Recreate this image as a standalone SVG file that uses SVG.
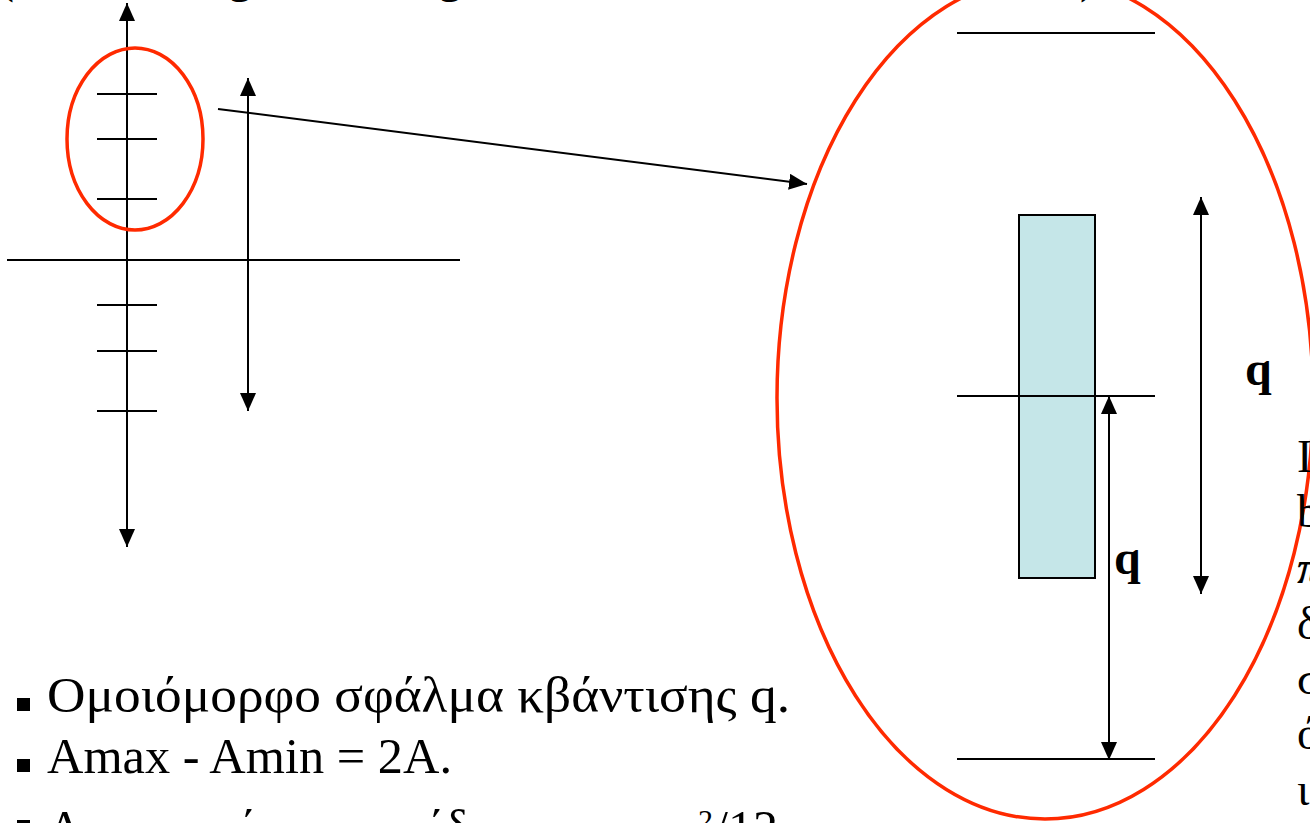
<svg xmlns="http://www.w3.org/2000/svg" width="1310" height="823" viewBox="0 0 1310 823">
<style>
.ln{stroke:#000;stroke-width:2;fill:none}
.red{stroke:#ff2a00;stroke-width:3.5;fill:none}
.txt{font-family:"Liberation Serif","Times New Roman",serif;fill:#000}
.q{font-family:"Liberation Serif","Times New Roman",serif;font-weight:bold;font-size:48px;fill:#000}
</style>
<defs>
<marker id="ah" markerUnits="userSpaceOnUse" markerWidth="18" markerHeight="16" viewBox="0 0 18 16" refX="18" refY="8" orient="auto-start-reverse">
<path d="M0,0 L18,8 L0,16 Z" fill="#000"/>
</marker>
</defs>
<rect width="1310" height="823" fill="#fff"/>

<g id="title-fragments" class="txt" font-size="48">
<text x="-2" y="-8">(</text>
<text x="228" y="-8">g</text>
<text x="438" y="-8">g</text>
<text x="1080" y="-8">)</text>
</g>

<g id="left-axes">
<line class="ln" x1="127" y1="547" x2="127" y2="3" marker-end="url(#ah)" marker-start="url(#ah)"/>
<line class="ln" x1="7" y1="260" x2="460" y2="260"/>
<line class="ln" x1="97" y1="94" x2="157" y2="94"/>
<line class="ln" x1="97" y1="139" x2="157" y2="139"/>
<line class="ln" x1="97" y1="199" x2="157" y2="199"/>
<line class="ln" x1="97" y1="305" x2="157" y2="305"/>
<line class="ln" x1="97" y1="351" x2="157" y2="351"/>
<line class="ln" x1="97" y1="411" x2="157" y2="411"/>
</g>
<g id="left-range-arrow">
<line class="ln" x1="248" y1="78" x2="248" y2="411" marker-start="url(#ah)" marker-end="url(#ah)"/>
</g>
<g id="small-ellipse">
<ellipse class="red" cx="135" cy="139" rx="68" ry="91"/>
</g>

<g id="connectors">
<line class="ln" x1="218" y1="109" x2="807" y2="184" marker-end="url(#ah)"/>
</g>

<g id="zoom-view">
<line class="ln" x1="957" y1="33" x2="1155" y2="33"/>
<rect x="1019" y="215" width="76" height="363" fill="#c5e6e8" stroke="#000" stroke-width="2"/>
<line class="ln" x1="957" y1="396" x2="1155" y2="396"/>
<line class="ln" x1="957" y1="759" x2="1155" y2="759"/>
<line class="ln" x1="1109" y1="396" x2="1109" y2="760" marker-start="url(#ah)" marker-end="url(#ah)"/>
<line class="ln" x1="1201" y1="197" x2="1201" y2="594" marker-start="url(#ah)" marker-end="url(#ah)"/>
<text class="q" x="1114" y="574">q</text>
<text class="q" x="1245" y="385">q</text>
</g>

<g id="big-ellipse">
<ellipse class="red" cx="1045" cy="398" rx="268" ry="421"/>
</g>

<g id="right-text" class="txt" font-size="46">
<text x="1297" y="472">Ι</text>
<text x="1297" y="527">b</text>
<text x="1297" y="583" font-weight="bold" font-style="italic">π</text>
<text x="1297" y="639">δ</text>
<text x="1297" y="694">σ</text>
<text x="1297" y="749">ό</text>
<text x="1297" y="805">ι</text>
</g>

<g id="bullets">
<rect x="17" y="698" width="13" height="13" fill="#000"/>
<text class="txt" x="47" y="712" font-size="50" textLength="743" lengthAdjust="spacingAndGlyphs">Ομοιόμορφο σφάλμα κβάντισης q.</text>
<rect x="17" y="759" width="13" height="13" fill="#000"/>
<text class="txt" x="47" y="773" font-size="50" textLength="405" lengthAdjust="spacingAndGlyphs">Amax - Amin = 2A.</text>
<rect x="17" y="820" width="13" height="13" fill="#000"/>
<text class="txt" x="47" y="845" font-size="50">Α</text>
<text class="txt" x="240" y="845" font-size="50">΄</text>
<text class="txt" x="428" y="845" font-size="50">΄δ</text>
<text class="txt" x="698" y="830" font-size="30">2</text>
<text class="txt" x="714" y="845" font-size="50">/12</text>
</g>
</svg>
